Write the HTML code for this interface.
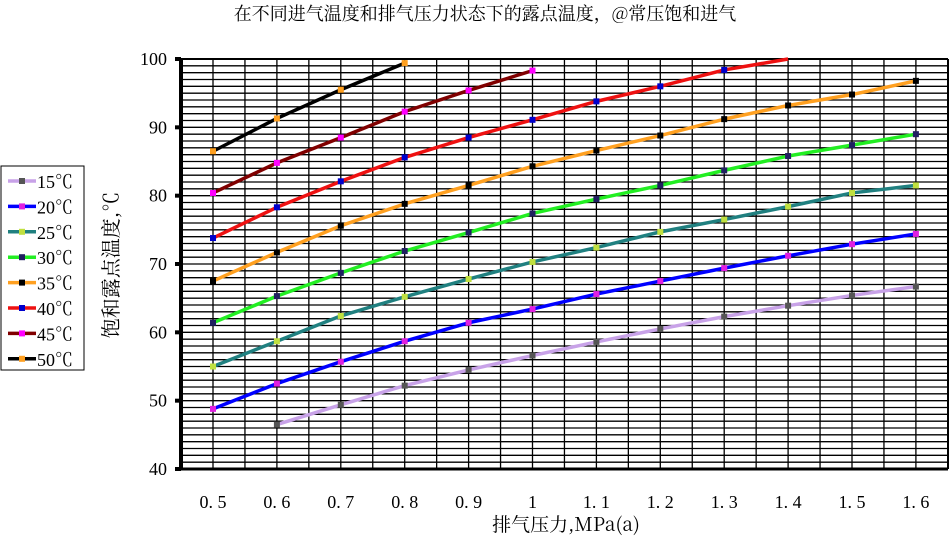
<!DOCTYPE html>
<html><head><meta charset="utf-8"><style>
html,body{margin:0;padding:0;background:#fff;}
svg{display:block;}
text{font-family:"Liberation Serif","Noto Serif CJK SC","Noto Sans CJK SC",serif;fill:#000;}
.cjk{font-family:"Noto Serif CJK SC","Noto Sans CJK SC",serif;}
</style></head><body>
<svg id="s" width="950" height="538" xmlns="http://www.w3.org/2000/svg">
<text class="cjk" x="485" y="20" font-size="18" text-anchor="middle">在不同进气温度和排气压力状态下的露点温度，@常压饱和进气</text>
<g id="grid"></g>
<g id="series"></g>
<text class="cjk" transform="translate(118,265) rotate(-90)" font-size="20" text-anchor="middle">饱和露点温度,℃</text>
<text class="cjk" x="566" y="531" font-size="19" text-anchor="middle">排气压力,MPa(a)</text>
<rect x="1" y="166" width="83" height="204" fill="#fff" stroke="#000" stroke-width="1"/>
<g id="leg"></g>
</svg>
<script>
const NS="http://www.w3.org/2000/svg";
function el(p,t,a,txt){const e=document.createElementNS(NS,t);for(const k in a)e.setAttribute(k,a[k]);if(txt!=null)e.textContent=txt;p.appendChild(e);return e;}
const g=document.getElementById('grid'),S=document.getElementById('series'),L=document.getElementById('leg');
const L0=181,R0=948,T=59,B=469;
const X=i=>213+i*63.9, Y=v=>B-(v-40)*(B-T)/60;
for(let v=41;v<100;v++)el(g,'line',{x1:L0,x2:R0,y1:Y(v),y2:Y(v),stroke:'#000','stroke-width':1.3});
for(let x=213;x<R0;x+=31.95)el(g,'line',{x1:x,x2:x,y1:T,y2:B,stroke:'#000','stroke-width':1.3});
el(g,'line',{x1:L0,x2:R0,y1:T,y2:T,stroke:'#000','stroke-width':2});
el(g,'line',{x1:R0,x2:R0,y1:T,y2:B,stroke:'#000','stroke-width':2});
el(g,'line',{x1:L0,x2:R0,y1:B,y2:B,stroke:'#000','stroke-width':3});
el(g,'line',{x1:L0,x2:L0,y1:T,y2:B,stroke:'#000','stroke-width':4});
for(let v=40;v<=100;v+=10){el(g,'line',{x1:L0-6,x2:L0,y1:Y(v),y2:Y(v),stroke:'#000','stroke-width':4});
el(g,'text',{x:L0-14,y:Y(v)+6,'font-size':18,'text-anchor':'end'},String(v));}
const xl=['0. 5','0. 6','0. 7','0. 8','0. 9','1','1. 1','1. 2','1. 3','1. 4','1. 5','1. 6'];
xl.forEach((t,i)=>el(g,'text',{x:X(i),y:508,'font-size':18,'text-anchor':'middle'},t));
const data=[
['15℃','#c8a2e8','#555',[null,46.5,49.4,52.2,54.5,56.6,58.6,60.5,62.3,63.9,65.4,66.7]],
['20℃','#0000ff','#e020e0',[48.8,52.5,55.7,58.7,61.4,63.4,65.6,67.5,69.4,71.2,72.9,74.4]],
['25℃','#208080','#c0e040',[55.0,58.7,62.4,65.2,67.8,70.3,72.4,74.7,76.5,78.4,80.4,81.5]],
['30℃','#22ee22','#202060',[61.4,65.3,68.7,71.9,74.6,77.4,79.5,81.5,83.7,85.8,87.4,89.0]],
['35℃','#ffa020','#000',[67.5,71.7,75.6,78.8,81.5,84.3,86.6,88.8,91.2,93.2,94.8,96.8]],
['40℃','#ee1111','#0000cc',[73.8,78.3,82.1,85.6,88.5,91.1,93.8,96.0,98.4,100]],
['45℃','#800000','#ff00ff',[80.4,84.8,88.5,92.3,95.4,98.3]],
['50℃','#000000','#ffa020',[86.5,91.3,95.5,99.4]]];
data.forEach((d,k)=>{
 let pts=[];d[3].forEach((v,i)=>{if(v!=null)pts.push([X(i),Y(v)]);});
 let p='M'+pts.map(a=>a.join(',')).join(' L');
 el(S,'path',{d:p,fill:'none',stroke:d[1],'stroke-width':3.5,'stroke-linejoin':'round'});
 pts.forEach((a,i)=>{if(k==5&&i==9)return;el(S,'rect',{x:a[0]-3,y:a[1]-3,width:6,height:6,fill:d[2]});});
 const y=181+k*25.4;
 el(L,'line',{x1:8,x2:36,y1:y,y2:y,stroke:d[1],'stroke-width':3.5});
 el(L,'rect',{x:19,y:y-3,width:6,height:6,fill:d[2]});
 el(L,'text',{x:37,y:y+7,'font-size':18},d[0]);
});
</script>
</body></html>
